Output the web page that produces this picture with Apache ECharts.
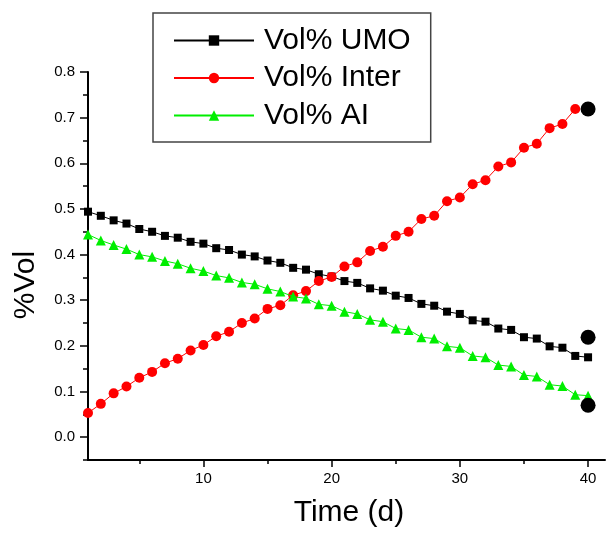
<!DOCTYPE html>
<html>
<head>
<meta charset="utf-8">
<script src="https://cdn.jsdelivr.net/npm/echarts@6/dist/echarts.min.js"></script>
<style>
html,body{margin:0;padding:0;background:#fff;}
#chart{width:606px;height:534px;}
</style>
</head>
<body>
<div id="chart"></div>
<script>
const days = [1,2,3,4,5,6,7,8,9,10,11,12,13,14,15,16,17,18,19,20,21,22,23,24,25,26,27,28,29,30,31,32,33,34,35,36,37,38,39,40];
const umo = [0.494,0.485,0.475,0.468,0.456,0.450,0.441,0.437,0.428,0.424,0.414,0.410,0.400,0.396,0.387,0.382,0.371,0.367,0.357,0.352,0.342,0.338,0.326,0.321,0.310,0.305,0.292,0.288,0.275,0.270,0.256,0.253,0.238,0.235,0.219,0.216,0.199,0.196,0.178,0.175];
const inter = [0.053,0.073,0.096,0.111,0.130,0.143,0.162,0.172,0.190,0.202,0.221,0.231,0.250,0.260,0.281,0.289,0.311,0.320,0.342,0.351,0.374,0.383,0.408,0.417,0.441,0.450,0.478,0.485,0.517,0.525,0.554,0.563,0.593,0.602,0.634,0.643,0.677,0.686,0.719];
const al = [0.444,0.431,0.421,0.412,0.400,0.395,0.386,0.380,0.370,0.364,0.354,0.349,0.339,0.335,0.325,0.319,0.308,0.304,0.291,0.288,0.275,0.270,0.257,0.253,0.238,0.235,0.219,0.216,0.199,0.196,0.178,0.175,0.158,0.155,0.136,0.133,0.115,0.112,0.093,0.091];
const endX = [40,40,40];
const endY = [0.719,0.219,0.070];
const seriesNames = ['Vol% UMO','Vol% Inter','Vol% AI'];
const xTitle = 'Time (d)';
const yTitle = '%Vol';
const xMajor = [10,20,30,40];
const xMinor = [5,15,25,35];
const yMajor = [0.0,0.1,0.2,0.3,0.4,0.5,0.6,0.7,0.8];
const yMinor = [-0.05,0.05,0.15,0.25,0.35,0.45,0.55,0.65,0.75];
const xMin = 1, xMax = 41.32, yMin = -0.05, yMax = 0.8;

const FONT = '"Liberation Sans", Arial, sans-serif';
const pairs = (xs, ys) => ys.map((v, i) => [xs[i], v]);

const chart = echarts.init(document.getElementById('chart'), null, {renderer: 'canvas'});
chart.setOption({
  animation: false,
  grid: {left: 88, right: 1, top: 72, bottom: 74},
  legend: {
    data: seriesNames,
    orient: 'vertical',
    left: 153, top: 13,
    padding: [9, 20, 8, 20],
    itemGap: 0.5,
    itemWidth: 80,
    itemHeight: 13,
    borderColor: '#444',
    borderWidth: 1.5,
    borderRadius: 0,
    textStyle: {fontFamily: FONT, fontSize: 30, color: '#000', lineHeight: 37, padding: [0, 0, 0, 5]}
  },
  xAxis: [{
    type: 'value', min: xMin, max: xMax,
    axisLine: {show: true, onZero: false, lineStyle: {color: '#000', width: 2}},
    axisTick: {show: true, length: 7, lineStyle: {color: '#000', width: 1.5}, customValues: xMajor},
    axisLabel: {show: true, fontSize: 15, color: '#000', margin: 11, fontFamily: FONT, customValues: xMajor},
    splitLine: {show: false}
  }, {
    type: 'value', min: xMin, max: xMax, position: 'bottom',
    axisLine: {show: false, onZero: false},
    axisTick: {show: true, length: 4, lineStyle: {color: '#000', width: 1.5}, customValues: xMinor},
    axisLabel: {show: false},
    splitLine: {show: false}
  }],
  yAxis: [{
    type: 'value', min: yMin, max: yMax,
    axisLine: {show: true, onZero: false, lineStyle: {color: '#000', width: 2}},
    axisTick: {show: true, length: 8, lineStyle: {color: '#000', width: 1.5}, customValues: yMajor},
    axisLabel: {show: true, fontSize: 15, color: '#000', margin: 13, fontFamily: FONT, customValues: yMajor,
      formatter: v => v.toFixed(1)},
    splitLine: {show: false}
  }, {
    type: 'value', min: yMin, max: yMax, position: 'left',
    axisLine: {show: false, onZero: false},
    axisTick: {show: true, length: 5, lineStyle: {color: '#000', width: 1.5}, customValues: yMinor},
    axisLabel: {show: false},
    splitLine: {show: false}
  }],
  graphic: [{
    type: 'text', x: 26, y: 285, rotation: Math.PI / 2,
    style: {text: yTitle, font: '30px ' + FONT, fill: '#000', align: 'center', verticalAlign: 'middle'}
  }, {
    type: 'text', x: 349, y: 513,
    style: {text: xTitle, font: '30px ' + FONT, fill: '#000', align: 'center', verticalAlign: 'middle'}
  }],
  series: [{
    name: seriesNames[0], type: 'line', data: pairs(days, umo),
    symbol: 'rect', symbolSize: 8, showAllSymbol: true,
    itemStyle: {color: '#000'}, lineStyle: {color: '#000', width: 1}, z: 2,
    markLine: {
      silent: true, symbol: 'none',
      label: {show: false},
      lineStyle: {color: '#000', width: 2, type: 'solid'},
      emphasis: {disabled: true},
      data: [{yAxis: yMin}]
    }
  }, {
    name: seriesNames[1], type: 'line', data: pairs(days, inter),
    symbol: 'circle', symbolSize: 10, showAllSymbol: true,
    itemStyle: {color: '#ff0000'}, lineStyle: {color: '#ff0000', width: 1}, z: 3
  }, {
    name: seriesNames[2], type: 'line', data: pairs(days, al),
    symbol: 'triangle', symbolSize: 10, showAllSymbol: true,
    itemStyle: {color: '#00ee00'}, lineStyle: {color: '#00ee00', width: 1}, z: 4
  }, {
    name: 'end', type: 'scatter', data: pairs(endX, endY),
    symbol: 'circle', symbolSize: 15, itemStyle: {color: '#000', opacity: 1}, z: 5
  }]
});
</script>
</body>
</html>
